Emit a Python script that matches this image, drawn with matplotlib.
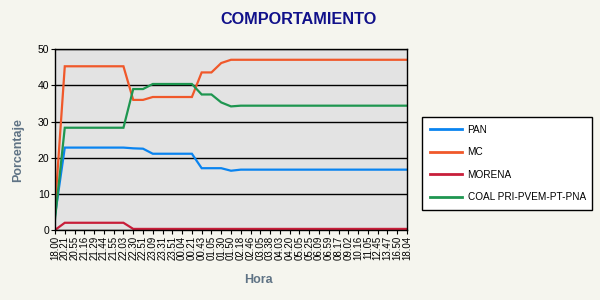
import matplotlib
matplotlib.use("Agg")
import matplotlib.pyplot as plt
import numpy as np

plt.rcParams["font.family"] = ["Liberation Sans", "DejaVu Sans"]

hours = ["18.00", "20.21", "20.55", "21.16", "21.29", "21.44", "21.55", "22.03",
         "22.30", "22.51", "23.09", "23.31", "23.51", "00.04", "00.21", "00.43",
         "01.05", "01.30", "01.50", "02.18", "02.46", "03.05", "03.38", "04.03",
         "04.20", "05.05", "05.25", "06.09", "06.59", "08.17", "09.02", "10.16",
         "11.05", "12.45", "13.47", "16.50", "18.04"]

pan = [4.0, 22.8, 22.8, 22.8, 22.8, 22.8, 22.8, 22.8, 22.6, 22.5, 21.1, 21.1,
       21.1, 21.1, 21.1, 17.1, 17.1, 17.1, 16.4, 16.7, 16.7, 16.7, 16.7, 16.7,
       16.7, 16.7, 16.7, 16.7, 16.7, 16.7, 16.7, 16.7, 16.7, 16.7, 16.7, 16.7, 16.7]
mc = [6.0, 45.3, 45.3, 45.3, 45.3, 45.3, 45.3, 45.3, 36.0, 36.0, 36.8, 36.8,
      36.8, 36.8, 36.8, 43.6, 43.6, 46.2, 47.1, 47.1, 47.1, 47.1, 47.1, 47.1,
      47.1, 47.1, 47.1, 47.1, 47.1, 47.1, 47.1, 47.1, 47.1, 47.1, 47.1, 47.1, 47.1]
morena = [0.0, 2.0, 2.0, 2.0, 2.0, 2.0, 2.0, 2.0, 0.3, 0.3, 0.3, 0.3, 0.3, 0.3,
          0.3, 0.3, 0.3, 0.3, 0.3, 0.3, 0.3, 0.3, 0.3, 0.3, 0.3, 0.3, 0.3, 0.3,
          0.3, 0.3, 0.3, 0.3, 0.3, 0.3, 0.3, 0.3, 0.3]
coal = [3.0, 28.3, 28.3, 28.3, 28.3, 28.3, 28.3, 28.3, 39.0, 39.0, 40.4, 40.4,
        40.4, 40.4, 40.4, 37.5, 37.5, 35.3, 34.2, 34.4, 34.4, 34.4, 34.4, 34.4,
        34.4, 34.4, 34.4, 34.4, 34.4, 34.4, 34.4, 34.4, 34.4, 34.4, 34.4, 34.4, 34.4]

series = [("PAN", pan, "#0A84F0"),
          ("MC", mc, "#F0582A"),
          ("MORENA", morena, "#C81E3A"),
          ("COAL PRI-PVEM-PT-PNA", coal, "#1E9650")]

bg = "#F5F5EE"
fig = plt.figure(figsize=(6, 3), dpi=100, facecolor=bg)
ax = fig.add_axes([55 / 600, 1 - 230 / 300, 352 / 600, 180.7 / 300])
ax.set_facecolor("#E3E3E3")

x = np.arange(len(hours))
handles = []
for name, vals, col in series:
    h, = ax.plot(x, vals, color=col, lw=1.6, label=name, solid_joinstyle="miter")
    handles.append(h)

ax.set_xlim(0, len(hours) - 1)
ax.set_ylim(0, 50)
ax.set_yticks(range(0, 51, 10))
ax.yaxis.grid(True, color="black", lw=1.0)
ax.set_axisbelow(True)
ax.set_xticks(x)
ax.set_xticklabels(hours, rotation=90, fontsize=7)
ax.tick_params(axis="x", length=3, width=0.8, pad=1)
ax.tick_params(axis="y", length=3, width=0.8, labelsize=7.5, pad=1)
for s in ax.spines.values():
    s.set_color("black")
    s.set_linewidth(1.0)

fig.text(0.497, 1 - 20 / 300, "COMPORTAMIENTO", ha="center", va="center",
         fontsize=11.7, fontweight="bold", color="#10108A")
fig.text(18 / 600, 150 / 300, "Porcentaje", rotation=90, ha="center", va="center",
         fontsize=9, fontweight="bold", color="#5F7385")
fig.text(258 / 600, 1 - 280 / 300, "Hora", ha="center", va="center",
         fontsize=9, fontweight="bold", color="#5F7385")

leg = fig.legend(handles=handles, loc="center left",
                 bbox_to_anchor=(422 / 600, 1 - 207 / 300, 170 / 600, 87 / 300),
                 mode="expand", fontsize=7.2, frameon=True, fancybox=False,
                 edgecolor="black", facecolor="white", framealpha=1,
                 handlelength=3.2, handletextpad=0.6, labelspacing=1.25,
                 borderpad=0.75, borderaxespad=0)
leg.get_frame().set_linewidth(1.0)
for ln in leg.get_lines():
    ln.set_linewidth(2.0)

fig.savefig("out.png", dpi=100, facecolor=bg)
